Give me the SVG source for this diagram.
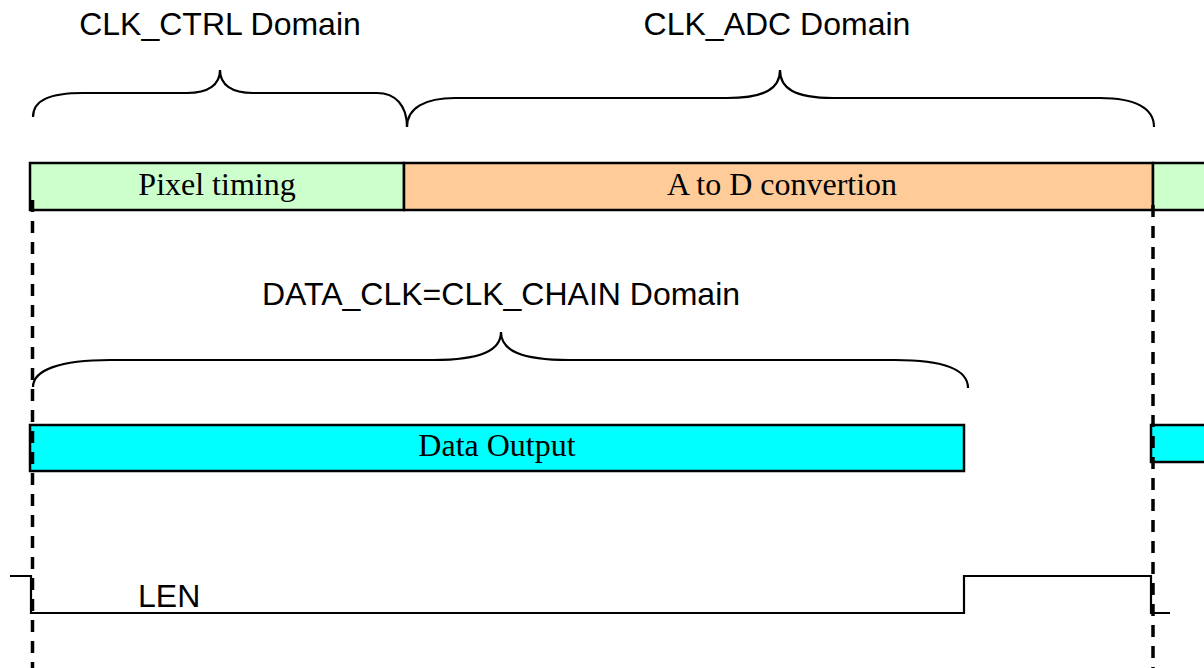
<svg xmlns="http://www.w3.org/2000/svg" width="1204" height="668" viewBox="0 0 1204 668">
<style>
.sans{font-family:"Liberation Sans",Arial,sans-serif;font-size:32px;fill:#000}
.serif{font-family:"Liberation Serif","Times New Roman",serif;font-size:32px;fill:#000}
.bar{stroke:#000;stroke-width:2.5}
.brace{fill:none;stroke:#000;stroke-width:2.2}
.sig{fill:none;stroke:#000;stroke-width:2.2}
.dash{fill:none;stroke:#000;stroke-width:3.5;stroke-dasharray:12 9}
</style>
<rect width="1204" height="668" fill="#fff"/>
<g id="clk-ctrl-domain">
<path class="brace" d="M33,117 C33,100 50,93 83,93 L187,93 C208,93 220,85 220,70 C220,85 232,93 253,93 L377,93 C395,93 407,105 407,127"/>
<text class="sans" x="220" y="35" text-anchor="middle">CLK_CTRL Domain</text>
</g>
<g id="clk-adc-domain">
<path class="brace" d="M407,127 C407,108 425,98 455,98 L727,98 C766,98 780,88 780,70 C780,88 794,98 833,98 L1100,98 C1135,98 1154,108 1154,127"/>
<text class="sans" x="777" y="35" text-anchor="middle">CLK_ADC Domain</text>
</g>
<g id="pixel-timing">
<rect class="bar" x="30" y="163" width="374" height="47" fill="#CCFFCC"/>
<text class="serif" x="217" y="195" text-anchor="middle">Pixel timing</text>
</g>
<g id="a-to-d">
<rect class="bar" x="404" y="163" width="749" height="47" fill="#FFCC99"/>
<text class="serif" x="782" y="195" text-anchor="middle">A to D convertion</text>
</g>
<g id="pixel-timing-next">
<rect class="bar" x="1153" y="163" width="60" height="47" fill="#CCFFCC"/>
</g>
<g id="data-clk-domain">
<path class="brace" d="M33,387 C33,370 60,360 110,360 L433,360 C482,360 501,350 501,332 C501,350 520,360 569,360 L895,360 C945,360 968,370 968,388"/>
<text class="sans" x="501" y="305" text-anchor="middle">DATA_CLK=CLK_CHAIN Domain</text>
</g>
<g id="data-output">
<rect class="bar" x="30" y="425" width="934" height="46" fill="#00FFFF"/>
<text class="serif" x="497" y="456" text-anchor="middle">Data Output</text>
</g>
<g id="data-output-next">
<rect class="bar" x="1151" y="425" width="60" height="37" fill="#00FFFF"/>
</g>
<g id="len">
<path class="sig" d="M10,576 L31,576 L31,613 L964,613 L964,576 L1151,576 L1151,613 L1170,613"/>
<text class="sans" x="138" y="607">LEN</text>
</g>
<g id="connectors">
<line class="dash" x1="32.5" y1="200" x2="32.5" y2="668"/>
<line class="dash" x1="1153" y1="205" x2="1153" y2="668"/>
</g>
</svg>
